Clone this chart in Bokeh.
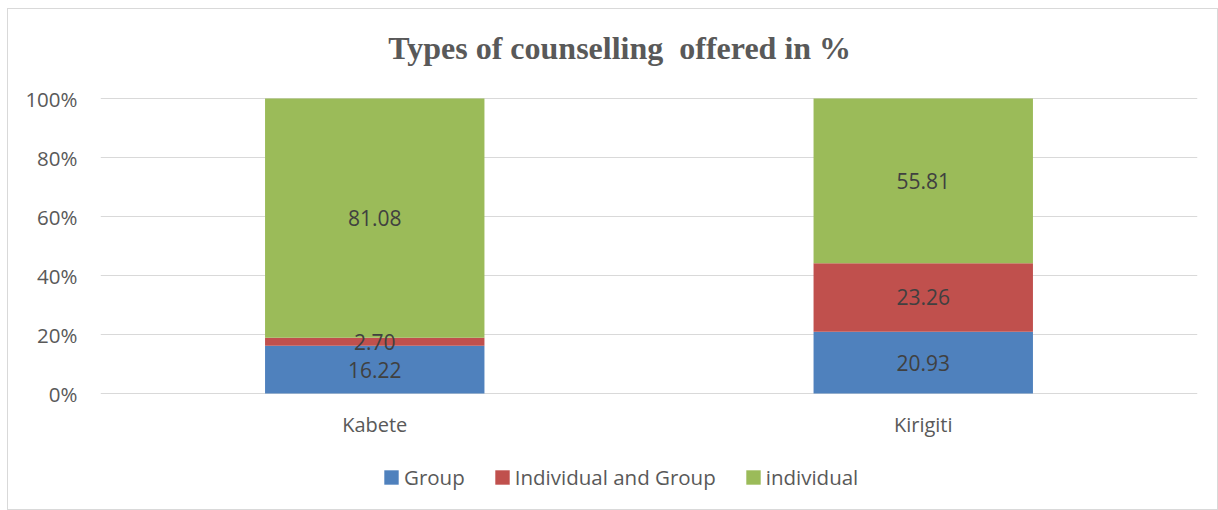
from bokeh.plotting import figure
from bokeh.layouts import column, row
from bokeh.models import ColumnDataSource, LabelSet, Legend, LegendItem, FixedTicker, PrintfTickFormatter, Range1d, FactorRange, Spacer
from bokeh.core.properties import value
from bokeh.embed import file_html
from bokeh.resources import INLINE

sites = ["Kabete", "Kirigiti"]
series = ["Group", "Individual and Group", "individual"]
group = [16.22, 20.93]
ind_group = [2.70, 23.26]
individual = [81.08, 55.81]
colors = ["#4F81BD", "#C0504D", "#9BBB59"]
y_ticks = [0, 20, 40, 60, 80, 100]
title_text = "Types of counselling\u00a0 offered in %"

data = {"site": sites, "Group": group, "Individual and Group": ind_group, "individual": individual}
source = ColumnDataSource(data)

# frame spans the whole figure height: title, category labels and legend sit inside it
PX_PER_UNIT = 2.95
TOP_PX = 89      # pixels from figure top down to the 100% line
FIG_H = 502
p = figure(x_range=FactorRange(*sites),
           y_range=Range1d(100 - (FIG_H - TOP_PX) / PX_PER_UNIT, 100 + TOP_PX / PX_PER_UNIT),
           width=1211, height=FIG_H, output_backend="svg", toolbar_location=None,
           min_border_left=92, min_border_right=22, min_border_top=0, min_border_bottom=0)
p.x_range.range_padding = 0

renderers = p.vbar_stack(series, x="site", width=0.4, color=colors, source=source, line_width=0)

# data labels at segment midpoints
lab_x, lab_y, lab_t = [], [], []
for i, s in enumerate(sites):
    base = 0.0
    for vals in (group, ind_group, individual):
        v = vals[i]
        lab_x.append(s)
        lab_y.append(base + v / 2)
        lab_t.append(f"{v:.2f}")
        base += v
lsrc = ColumnDataSource(dict(x=lab_x, y=lab_y, t=lab_t))
p.add_layout(LabelSet(x="x", y="y", text="t", source=lsrc, text_align="center", text_baseline="middle",
                      text_font=value("Open Sans"), text_font_size=value("21px"), text_color="#404040"))

# category labels (x axis)
p.text(x=sites, y=[-31 / PX_PER_UNIT] * len(sites), text=sites, text_align="center", text_baseline="middle",
       text_font=value("Open Sans"), text_font_size=value("20px"), text_color="#595959")
p.xaxis.visible = False

# chart title
p.text(x=[sites[0]], y=[100 + 51 / PX_PER_UNIT], text=[title_text], x_offset=13.5,
       text_align="left", text_baseline="middle",
       text_font=value("Liberation Serif"), text_font_style="bold", text_font_size=value("32px"),
       text_color="#595959")

p.yaxis.ticker = FixedTicker(ticks=y_ticks)
p.yaxis.formatter = PrintfTickFormatter(format="%d%%")
p.yaxis.axis_line_color = None
p.yaxis.major_tick_line_color = None
p.yaxis.minor_tick_line_color = None
p.yaxis.major_label_text_font = "Open Sans"
p.yaxis.major_label_text_font_size = "20.5px"
p.yaxis.major_label_text_color = "#595959"
p.yaxis.major_label_standoff = 17

p.xgrid.grid_line_color = None
p.ygrid.grid_line_color = "#d9d9d9"
p.ygrid.ticker = FixedTicker(ticks=y_ticks)
p.outline_line_color = None

legend = Legend(items=[LegendItem(label=s, renderers=[r]) for s, r in zip(series, renderers)],
                orientation="horizontal", location=(282, 20),
                label_text_font="Open Sans", label_text_font_size="20.5px", label_text_color="#595959",
                glyph_width=18, glyph_height=18, spacing=28, label_standoff=4, margin=0, padding=0,
                border_line_color=None, background_fill_alpha=0)
p.add_layout(legend, "center")

p.styles = {"border": "1px solid #d9d9d9"}

layout = column(Spacer(height=8), row(Spacer(width=7), p))

open("out.html", "w").write(file_html(layout, INLINE))
